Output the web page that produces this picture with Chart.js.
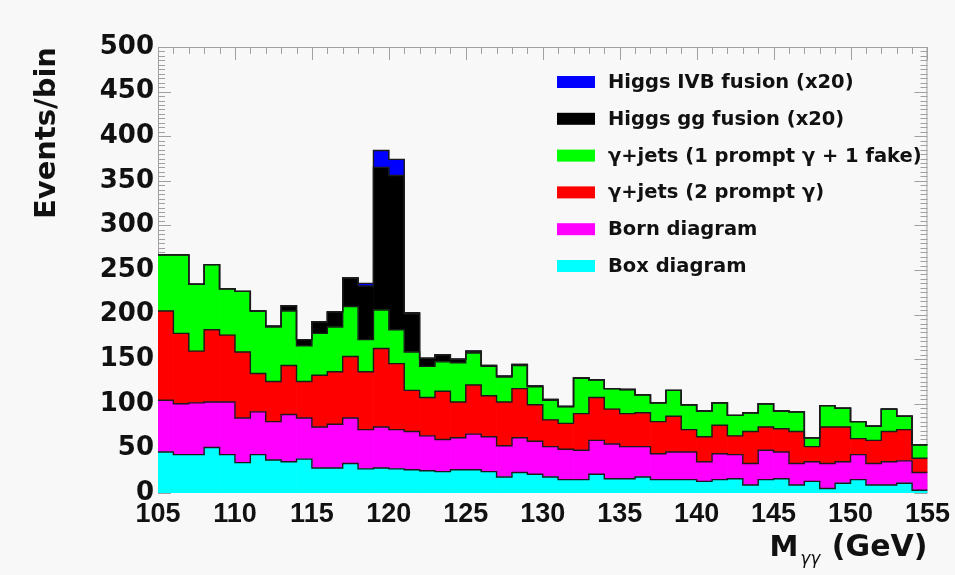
<!DOCTYPE html>
<html>
<head>
<meta charset="utf-8">
<script src="https://cdn.jsdelivr.net/npm/chart.js@4.4.1/dist/chart.umd.min.js"></script>
<style>
  html, body { margin: 0; padding: 0; background: #f8f8f8; }
  #wrap { width: 955px; height: 575px; }
</style>
</head>
<body>
<div id="wrap"><canvas id="mgg" width="955" height="575"></canvas></div>
<script>
// bin edges in GeV, 1 GeV bins
const binEdges = [105, 106, 107, 108, 109, 110, 111, 112, 113, 114, 115, 116, 117, 118, 119, 120, 121, 122, 123, 124, 125,
    126, 127, 128, 129, 130, 131, 132, 133, 134, 135, 136, 137, 138, 139, 140, 141, 142, 143, 144, 145,
    146, 147, 148, 149, 150, 151, 152, 153, 154, 155];

// events per bin for each contribution (bottom of the stack first)
const boxDiagram = [46, 43, 43, 51, 43, 34, 43, 37, 35, 38, 28, 28, 33, 27, 28, 27, 26, 25, 24, 26,
    26, 24, 18, 23, 21, 18, 15, 15, 21, 16, 16, 18, 15, 15, 15, 13, 15, 16, 9, 15,
    16, 9, 13, 5, 11, 15, 9, 9, 11, 3];
const bornDiagram = [58, 57, 58, 51, 59, 50, 48, 43, 53, 46, 46, 49, 51, 44, 46, 44, 43, 39, 36, 36,
    40, 39, 35, 39, 37, 34, 34, 33, 38, 39, 36, 34, 29, 31, 31, 22, 29, 27, 24, 33,
    30, 24, 22, 28, 24, 28, 24, 26, 25, 20];
const jetsTwoPrompt = [100, 79, 58, 81, 75, 74, 43, 45, 55, 41, 58, 59, 69, 65, 88, 74, 46, 43, 54, 40,
    55, 46, 49, 55, 41, 30, 29, 41, 48, 39, 37, 38, 36, 40, 25, 28, 32, 21, 36, 26,
    26, 36, 17, 41, 39, 18, 26, 34, 35, 16];
const jetsOneFake = [63, 88, 75, 73, 52, 68, 70, 61, 61, 40, 47, 50, 56, 36, 43, 38, 43, 35, 33, 44,
    36, 33, 28, 26, 20, 22, 19, 40, 20, 23, 27, 20, 21, 29, 28, 29, 25, 23, 21, 26,
    20, 22, 10, 24, 21, 19, 16, 25, 15, 15];
const higgsGG = [0, 0, 0, 0, 0, 0, 0, 1, 6, 7, 13, 17, 32, 60, 160, 173, 43, 9, 8, 4,
    2, 1, 1, 1, 1, 1, 0, 0, 0, 0, 0, 0, 0, 0, 0, 0, 0, 0, 0, 0,
    0, 0, 0, 0, 0, 0, 0, 0, 0, 0];
const higgsIVB = [0, 0, 0, 0, 0, 0, 0, 0, 0, 0, 0, 0, 0, 3, 19, 18, 1, 0, 0, 0,
    0, 0, 0, 0, 0, 0, 0, 0, 0, 0, 0, 0, 0, 0, 0, 0, 0, 0, 0, 0,
    0, 0, 0, 0, 0, 0, 0, 0, 0, 0];

const yTicks = [0, 50, 100, 150, 200, 250, 300, 350, 400, 450, 500];
const xTicks = [105, 110, 115, 120, 125, 130, 135, 140, 145, 150, 155];

const components = [
    { label: 'Box diagram', data: boxDiagram, color: '#00ffff' },
    { label: 'Born diagram', data: bornDiagram, color: '#ff00ff' },
    { label: 'γ+jets (2 prompt γ)', data: jetsTwoPrompt, color: '#ff0000' },
    { label: 'γ+jets (1 prompt γ + 1 fake)', data: jetsOneFake, color: '#00ff00' },
    { label: 'Higgs gg fusion (x20)', data: higgsGG, color: '#000000' },
    { label: 'Higgs IVB fusion (x20)', data: higgsIVB, color: '#0000ff' }
];

const centers = binEdges.slice(0, -1).map(e => e + 0.5);

const datasets = [];
const running = centers.map(() => 0);
components.forEach(c => {
    datasets.push({
        type: 'bar',
        label: c.label,
        data: c.data.map((v, i) => ({ x: centers[i], y: v })),
        backgroundColor: c.color,
        borderWidth: 0,
        barPercentage: 1,
        categoryPercentage: 1,
        order: 2
    });
    c.data.forEach((v, i) => running[i] += v);
    // ROOT style outline of the stacked histogram
    datasets.push({
        type: 'line',
        label: '',
        data: binEdges.map((e, i) => ({ x: e, y: running[Math.min(i, running.length - 1)] })),
        yAxisID: 'yOutline',
        stepped: 'before',
        borderColor: '#1b1b1b',
        borderWidth: 1.4,
        pointRadius: 0,
        fill: false,
        order: 1
    });
});

const axisTicks = {
    id: 'axisTicks',
    beforeDatasetsDraw(chart) {
        const { ctx, chartArea: a, scales: { x, y } } = chart;
        ctx.save();
        ctx.strokeStyle = '#a0a0a0';
        ctx.lineWidth = 1;
        ctx.beginPath();
        for (let v = 0; v <= 500; v += 5) {
            const py = Math.round(y.getPixelForValue(v)) + 0.5;
            const len = v % 50 === 0 ? 13 : 7;
            ctx.moveTo(a.left, py); ctx.lineTo(a.left + len, py);
            ctx.moveTo(a.right, py); ctx.lineTo(a.right - len, py);
        }
        for (let m = 105; m <= 155; m++) {
            const px = Math.round(x.getPixelForValue(m)) + 0.5;
            const len = m % 5 === 0 ? 13 : 7;
            ctx.moveTo(px, a.top); ctx.lineTo(px, a.top + len);
        }
        ctx.stroke();
        ctx.strokeRect(a.left + 0.5, a.top + 0.5, a.width - 1, a.height - 1);
        ctx.restore();
    }
};

const innerLegend = {
    id: 'innerLegend',
    afterDraw(chart) {
        const { ctx } = chart;
        const entries = components.slice().reverse();
        ctx.save();
        ctx.font = 'bold 19.5px "DejaVu Sans", sans-serif';
        ctx.textBaseline = 'middle';
        ctx.textAlign = 'left';
        entries.forEach((c, k) => {
            const cy = 82 + k * 36.8;
            ctx.fillStyle = c.color;
            ctx.fillRect(557, cy - 6, 38, 12);
            ctx.fillStyle = '#111';
            ctx.fillText(c.label, 608, cy + 1);
        });
        ctx.restore();
    }
};

const xTitle = {
    id: 'xTitle',
    afterDraw(chart) {
        const { ctx, chartArea: a } = chart;
        const base = a.bottom + 63;
        ctx.save();
        ctx.fillStyle = '#111';
        ctx.textBaseline = 'alphabetic';
        ctx.textAlign = 'right';
        ctx.font = 'bold 30px "DejaVu Sans", sans-serif';
        const unit = ' (GeV)';
        ctx.fillText(unit, a.right, base);
        let xr = a.right - ctx.measureText(unit).width;
        ctx.font = 'italic 17px "DejaVu Sans", sans-serif';
        ctx.fillText('γγ', xr - 1, base + 8);
        xr -= ctx.measureText('γγ').width + 3;
        ctx.font = 'bold 29px "DejaVu Sans", sans-serif';
        ctx.fillText('M', xr, base);
        ctx.restore();
    }
};

new Chart(document.getElementById('mgg'), {
    data: { datasets },
    options: {
        responsive: false,
        animation: false,
        devicePixelRatio: 1,
        layout: { padding: { top: 47, right: 27, left: 0, bottom: 0 } },
        plugins: {
            legend: { display: false },
            tooltip: { enabled: false }
        },
        scales: {
            x: {
                type: 'linear',
                min: 105,
                max: 155,
                offset: false,
                stacked: true,
                afterFit: s => { s.height = 82; },
                afterBuildTicks: s => { s.ticks = xTicks.map(v => ({ value: v })); },
                grid: { display: false, drawTicks: false },
                border: { display: false },
                ticks: {
                    padding: 5,
                    color: '#111',
                    font: { family: '"Liberation Sans", Arial, sans-serif', weight: 'bold', size: 27 }
                }
            },
            y: {
                stacked: true,
                min: 0,
                max: 500,
                afterFit: s => { s.width = 158; },
                afterBuildTicks: s => { s.ticks = yTicks.map(v => ({ value: v })); },
                grid: { display: false, drawTicks: false },
                border: { display: false },
                ticks: {
                    padding: 4,
                    color: '#111',
                    font: { family: '"DejaVu Sans", sans-serif', weight: 'bold', size: 26 }
                },
                title: {
                    display: true,
                    text: 'Events/bin',
                    align: 'end',
                    color: '#111',
                    padding: { top: 30, bottom: 0 },
                    font: { family: '"DejaVu Sans", sans-serif', weight: 'bold', size: 29 }
                }
            },
            yOutline: {
                display: false,
                min: 0,
                max: 500
            }
        }
    },
    plugins: [axisTicks, innerLegend, xTitle]
});
</script>
</body>
</html>
